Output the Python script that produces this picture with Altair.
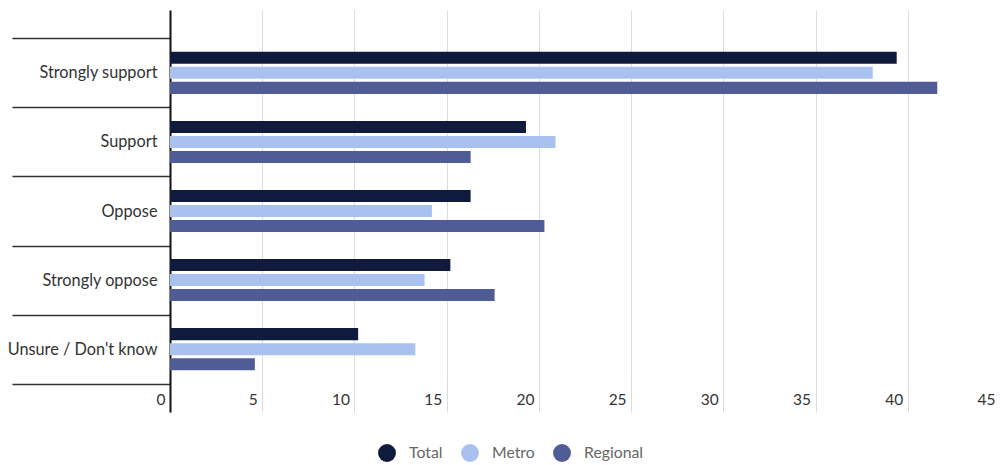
import altair as alt
import pandas as pd

categories = ["Strongly support", "Support", "Oppose", "Strongly oppose", "Unsure / Don't know"]
series = ["Total", "Metro", "Regional"]
total = [39.4, 19.3, 16.3, 15.2, 10.2]
metro = [38.1, 20.9, 14.2, 13.8, 13.3]
regional = [41.6, 16.3, 20.3, 17.6, 4.6]
x_ticks = [0, 5, 10, 15, 20, 25, 30, 35, 40, 45]
colors = ["#0f1a3d", "#a9c1ef", "#4f5c96"]

rows = []
for s, vals in zip(series, [total, metro, regional]):
    for c, v in zip(categories, vals):
        rows.append({"category": c, "series": s, "value": v})
df = pd.DataFrame(rows)

FONT = "Lato"

chart = alt.Chart(df).mark_bar(cornerRadius=0).encode(
    x=alt.X("value:Q",
            scale=alt.Scale(domain=[0, 45], nice=False, zero=True),
            axis=alt.Axis(values=x_ticks, title=None, domain=False, ticks=False,
                          grid=True, gridColor="#dcdcdc", gridWidth=1,
                          labelAlign="right", labelBaseline="alphabetic",
                          labelPadding=-8, labelOffset=-5,
                          labelFontSize=15.5, labelColor="#333333", labelFont=FONT)),
    y=alt.Y("category:N", sort=categories,
            scale=alt.Scale(paddingInner=0, paddingOuter=0.41),
            axis=alt.Axis(title=None, tickBand="extent", tickSize=158, tickWidth=1.5,
                          grid=False,
                          tickColor="#333333", domainColor="#111111", domainWidth=2,
                          labelPadding=-145, labelFontSize=16.3, labelColor="#333333",
                          labelFont=FONT, labelLimit=200)),
    yOffset=alt.YOffset("series:N", sort=series,
                        scale=alt.Scale(paddingInner=0.2, paddingOuter=0.9)),
    color=alt.Color("series:N", sort=series,
                    scale=alt.Scale(domain=series, range=colors),
                    legend=alt.Legend(title=None, orient="none", legendX=208, legendY=434,
                                      direction="horizontal", symbolType="circle",
                                      symbolSize=320, symbolStrokeWidth=0,
                                      labelFontSize=15.8, labelColor="#666666",
                                      labelFont=FONT, columnPadding=18, labelOffset=13)),
).properties(
    width=830, height=402,
    background="white",
    padding={"left": 170, "top": 10, "right": 0, "bottom": 53},
    autosize=alt.AutoSizeParams(type="none"),
).configure_view(stroke="transparent", strokeWidth=0)

chart.save("out.html", embed_options={"renderer": "svg", "actions": False})
